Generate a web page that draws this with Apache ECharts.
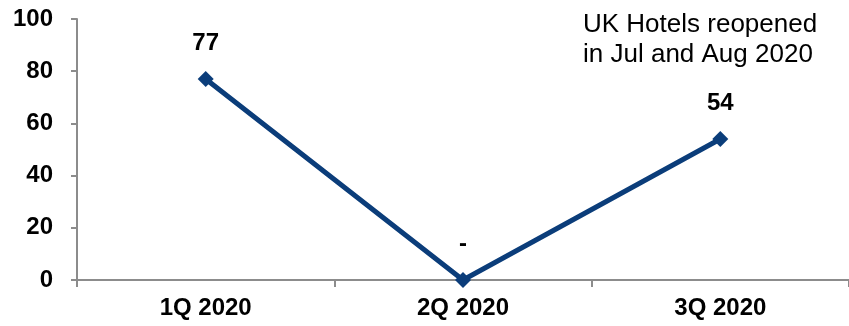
<!DOCTYPE html>
<html>
<head>
<meta charset="utf-8">
<script src="https://cdn.jsdelivr.net/npm/echarts@6/dist/echarts.min.js"></script>
<style>
  html, body { margin: 0; padding: 0; background: #fff; }
  #chart { width: 849px; height: 326px; }
</style>
</head>
<body>
<div id="chart"></div>
<script>
const categories = ['1Q 2020', '2Q 2020', '3Q 2020']
const values = [77, 0, 54]
const pointLabels = ['77', '-', '54']
const yTicks = [0, 20, 40, 60, 80, 100]
const noteLines = ['UK Hotels reopened', 'in Jul and Aug 2020']

const chart = echarts.init(document.getElementById('chart'))
const navy = '#0b3d7a'
const axisGray = '#8c8c8c'
const font = 'Liberation Sans, Arial, sans-serif'

chart.setOption({
  animation: false,
  grid: { left: 77, right: -5, top: 19, bottom: 46 },
  xAxis: {
    type: 'category',
    data: categories,
    boundaryGap: true,
    axisLine: { lineStyle: { color: axisGray, width: 2 } },
    axisTick: { show: true, length: 7, lineStyle: { color: axisGray, width: 2 } },
    axisLabel: { color: '#000', fontWeight: 'bold', fontSize: 24, fontFamily: font, margin: 16 },
    splitLine: { show: false }
  },
  yAxis: {
    type: 'value',
    min: yTicks[0],
    max: yTicks[yTicks.length - 1],
    interval: 20,
    axisLine: { show: true, lineStyle: { color: axisGray, width: 2 } },
    axisTick: { show: true, length: 6, lineStyle: { color: axisGray, width: 2 } },
    axisLabel: { color: '#000', fontWeight: 'bold', fontSize: 24, fontFamily: font, margin: 24 },
    splitLine: { show: false }
  },
  graphic: [{
    type: 'text',
    left: 583,
    top: 10,
    style: {
      text: noteLines.join('\n'),
      font: '26px ' + font,
      fill: '#000',
      lineHeight: 30,
      align: 'left'
    }
  }],
  series: [{
    type: 'line',
    data: values,
    symbol: 'diamond',
    symbolSize: 16,
    lineStyle: { color: navy, width: 5 },
    itemStyle: { color: navy },
    label: {
      show: true,
      position: 'top',
      distance: 16,
      color: '#000',
      fontWeight: 'bold',
      fontSize: 24,
      fontFamily: font,
      formatter: p => pointLabels[p.dataIndex]
    }
  }]
})
</script>
</body>
</html>
